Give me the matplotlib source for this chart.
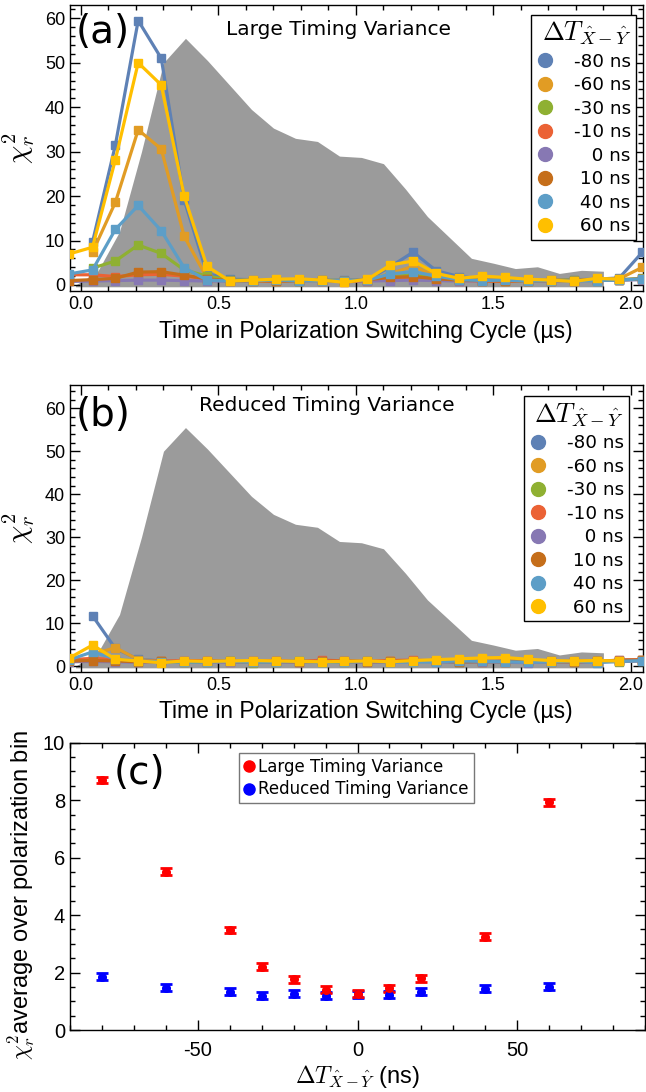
import numpy as np
import matplotlib
matplotlib.use("Agg")
import matplotlib.pyplot as plt
from matplotlib.ticker import MultipleLocator
from matplotlib.lines import Line2D

plt.rcParams['font.family'] = ['Liberation Sans', 'DejaVu Sans']
plt.rcParams['mathtext.fontset'] = 'cm'
plt.rcParams['axes.unicode_minus'] = False

nan = np.nan

# ---------------- data ----------------
delays_ns = [-80, -60, -30, -10, 0, 10, 40, 60]
delay_labels = ['-80 ns', '-60 ns', '-30 ns', '-10 ns', '\u2007 0 ns', ' 10 ns', ' 40 ns', ' 60 ns']
series_colors = ['#5E81B5', '#E19C24', '#8FB032', '#EB6235', '#8778B3', '#C56E1A', '#5D9EC7', '#FFBF00']

# bin centres of the polarization switching cycle (us)
time_us = [-0.042, 0.042, 0.125, 0.208, 0.292, 0.375, 0.458, 0.542, 0.625, 0.708, 0.792, 0.875, 0.958,
           1.042, 1.125, 1.208, 1.292, 1.375, 1.458, 1.542, 1.625, 1.708, 1.792, 1.875, 1.958, 2.042]

# grey background profile
profile_time_us = [-0.02, 0.06, 0.14, 0.22, 0.30, 0.38, 0.46, 0.54, 0.62, 0.70, 0.78, 0.86, 0.94,
                   1.02, 1.10, 1.18, 1.26, 1.34, 1.42, 1.50, 1.58, 1.66, 1.74, 1.82, 1.90]
profile_vals = [0.0, 3.0, 12.0, 30.0, 50.0, 55.5, 50.5, 45.0, 39.5, 35.3, 33.0, 32.3, 29.0,
                28.7, 27.3, 21.6, 15.4, 10.7, 6.0, 4.9, 3.7, 4.1, 2.6, 3.3, 3.1]

# (a) large timing variance
large_m80 = [nan, 9.7, 31.5, 59.5, 51.0, 19.2, 2.6, 1.3, 1.2, 1.1, 1.2, 1.0, 1.1, 1.2, 4.1, 7.4, 3.2, 1.9, 1.4, 1.3, 1.2, 1.1, 1.2, 1.3, 1.6, 7.4]
large_m60 = [nan, 7.4, 18.6, 34.9, 30.6, 11.0, 1.6, 1.0, 1.1, 1.2, 1.0, 0.9, 1.0, 1.1, 2.6, 4.2, 2.0, 1.3, 1.2, 1.1, 1.0, 1.2, 1.0, 1.1, 1.4, 4.0]
large_m30 = [nan, 3.8, 5.4, 9.0, 7.1, 3.4, 2.0, 1.1, 1.0, 0.9, 1.0, 1.1, 1.0, 1.0, 1.8, 2.3, 1.5, 1.1, 1.0, 1.0, 0.9, 1.0, 1.1, 1.0, 1.2, 1.5]
large_m10 = [2.3, 2.3, 1.9, 2.3, 2.4, 2.0, 1.4, 0.9, 1.0, 0.8, 1.1, 1.0, 0.7, 1.0, 1.3, 1.5, 1.2, 1.0, 0.9, 0.8, 1.0, 0.9, 1.0, 1.1, 1.2, 1.3]
large_0 = [0.8, 0.9, 1.0, 1.1, 1.1, 1.0, 0.9, 0.9, 1.0, 1.1, 0.9, 1.0, 1.0, 0.9, 1.0, 1.1, 1.0, 0.9, 1.0, 1.1, 1.0, 0.9, 1.0, 1.0, 1.1, 1.2]
large_p10 = [1.0, 1.2, 1.5, 2.9, 3.0, 2.2, 1.4, 0.9, 1.0, 0.9, 1.0, 1.1, 0.8, 1.2, 1.7, 1.9, 1.4, 1.1, 1.0, 0.9, 1.0, 1.0, 1.0, 1.1, 1.2, 1.3]
large_p40 = [2.5, 3.4, 12.5, 17.9, 12.2, 3.9, 1.1, 0.9, 1.0, 1.1, 1.0, 0.9, 1.0, 1.1, 2.5, 3.0, 2.0, 1.2, 1.0, 1.1, 0.9, 1.0, 0.9, 1.0, 1.1, 1.4]
large_p60 = [7.0, 8.5, 28.2, 50.0, 45.0, 20.1, 4.2, 0.9, 1.1, 1.3, 1.4, 1.1, 0.6, 1.3, 4.5, 5.4, 2.6, 1.5, 2.0, 1.7, 1.3, 1.1, 0.8, 1.5, 1.3, nan]

# (b) reduced timing variance
reduced_m80 = [nan, 11.7, 4.1, 1.6, 1.2, 1.1, 1.0, 1.2, 1.1, 1.0, 1.1, 1.0, 1.2, 1.1, 1.0, 1.1, 1.2, 1.0, 1.1, 1.0, 1.2, 1.3, 1.1, 1.0, 1.4, 1.5]
reduced_m60 = [nan, 2.7, 4.3, 1.5, 1.1, 1.2, 1.0, 1.1, 1.2, 1.0, 1.1, 1.2, 1.0, 1.1, 1.2, 1.0, 1.1, 1.3, 1.2, 1.0, 1.1, 1.0, 1.2, 1.1, 1.3, 1.5]
reduced_m30 = [nan, 1.6, 1.4, 1.2, 1.0, 0.9, 1.0, 1.1, 0.8, 1.0, 1.2, 1.0, 0.9, 1.1, 1.0, 1.2, 1.1, 0.9, 1.0, 1.1, 1.0, 0.9, 1.0, 1.2, 1.0, 1.3]
reduced_m10 = [1.5, 1.8, 1.5, 1.2, 1.1, 1.3, 1.2, 1.0, 1.1, 1.3, 1.0, 1.4, 1.2, 1.1, 1.3, 1.4, 1.2, 1.1, 1.0, 1.2, 1.1, 1.0, 1.2, 1.1, 1.4, 1.5]
reduced_0 = [1.0, 1.1, 1.0, 0.9, 1.0, 1.1, 1.0, 0.9, 1.0, 0.9, 1.0, 1.1, 1.0, 0.9, 1.0, 1.1, 1.0, 0.9, 1.0, 0.9, 0.8, 1.0, 0.9, 1.0, 1.1, 1.2]
reduced_p10 = [1.2, 1.3, 1.2, 1.0, 1.1, 1.0, 1.2, 1.1, 1.0, 1.1, 1.0, 1.1, 1.2, 1.0, 1.1, 1.3, 1.2, 1.0, 1.1, 1.0, 1.2, 1.1, 1.0, 1.1, 1.3, 1.4]
reduced_p40 = [1.5, 3.3, 1.7, 1.2, 1.0, 0.9, 1.0, 1.1, 0.9, 1.0, 1.1, 0.9, 1.0, 1.1, 1.0, 0.9, 1.0, 1.2, 1.1, 1.0, 0.9, 1.0, 1.2, 0.8, 1.1, 1.3]
reduced_p60 = [1.9, 4.9, 1.6, 1.2, 0.8, 1.2, 1.1, 1.2, 1.3, 1.2, 1.1, 1.0, 1.1, 1.2, 1.0, 1.3, 1.5, 1.7, 1.9, 2.0, 1.6, 1.3, 1.2, 1.3, 1.2, nan]

large_series = [large_m80, large_m60, large_m30, large_m10, large_0, large_p10, large_p40, large_p60]
reduced_series = [reduced_m80, reduced_m60, reduced_m30, reduced_m10, reduced_0, reduced_p10, reduced_p40, reduced_p60]

# (c) average chi^2_r over polarization bins
avg_delay_ns = [-80, -60, -40, -30, -20, -10, 0, 10, 20, 40, 60]
avg_large = [8.70, 5.51, 3.48, 2.20, 1.77, 1.40, 1.27, 1.45, 1.80, 3.25, 7.93]
avg_large_err = [0.12, 0.12, 0.12, 0.12, 0.12, 0.12, 0.12, 0.12, 0.12, 0.12, 0.12]
avg_reduced = [1.85, 1.47, 1.33, 1.19, 1.26, 1.20, 1.25, 1.23, 1.33, 1.44, 1.51]
avg_reduced_err = [0.12, 0.12, 0.12, 0.12, 0.12, 0.12, 0.12, 0.12, 0.12, 0.12, 0.12]

# ---------------- figure ----------------
W, H = 646, 1092
fig = plt.figure(figsize=(W / 100, H / 100), dpi=100)


def px_axes(left, top, right, bottom):
    return fig.add_axes([left / W, 1 - bottom / H, (right - left) / W, (bottom - top) / H])


def style_axes(ax, tick_size):
    ax.tick_params(which='both', direction='in', top=True, right=True, width=1.0, labelsize=tick_size)
    ax.tick_params(which='major', length=7)
    ax.tick_params(which='minor', length=3.5)
    for sp in ax.spines.values():
        sp.set_linewidth(1.0)


def time_panel(ax, series, ylim, letter, title, title_xy, leg_anchor):
    ax.fill_between(profile_time_us, -0.4, profile_vals, color='#9b9b9b', lw=0, zorder=1)
    for vals, col in zip(series, series_colors):
        ax.plot(time_us, vals, color=col, lw=2.3, marker='s', ms=6, mec=col, mfc=col,
                solid_joinstyle='round', zorder=3)
    ax.set_xlim(-0.04, 2.044)
    ax.set_ylim(*ylim)
    ax.xaxis.set_major_locator(MultipleLocator(0.5))
    ax.xaxis.set_minor_locator(MultipleLocator(0.1))
    ax.yaxis.set_major_locator(MultipleLocator(10))
    ax.yaxis.set_minor_locator(MultipleLocator(2))
    ax.xaxis.set_major_formatter(matplotlib.ticker.FormatStrFormatter('%.1f'))
    style_axes(ax, 13)
    ax.set_xlabel('Time in Polarization Switching Cycle (µs)', fontsize=16.5)
    ax.xaxis.set_label_coords(0.517, -0.1)
    ax.set_ylabel(r'$\chi^2_r$', fontsize=21)
    ax.yaxis.set_label_coords(-0.058, 0.5)
    ax.text(0.0576, letter[1], letter[0], transform=ax.transAxes, fontsize=28,
            family='DejaVu Sans', ha='center', va='center', zorder=6)
    ax.text(title_xy[0], title_xy[1], title, transform=ax.transAxes, fontsize=14.5,
            family='DejaVu Sans', ha='center', va='center', zorder=6)
    handles = [Line2D([], [], ls='none', marker='o', ms=10, color=c) for c in series_colors]
    leg = ax.legend(handles, delay_labels, loc='upper right', bbox_to_anchor=leg_anchor,
                    borderaxespad=0, frameon=True, fancybox=False, framealpha=1,
                    edgecolor='black', title=r'$\Delta T_{\hat{X}-\hat{Y}}$', title_fontsize=19,
                    prop={'family': 'DejaVu Sans', 'size': 13.2}, labelspacing=0.3,
                    handlelength=1.0, handletextpad=1.1, borderpad=0.25, alignment='right')
    leg.get_frame().set_linewidth(1.0)
    leg.set_zorder(7)


ax_a = px_axes(70, 5, 643, 291)
time_panel(ax_a, large_series, (-1.35, 63.0), ('(a)', 0.906), 'Large Timing Variance',
           (0.469, 0.916), (0.988, 0.965))

ax_b = px_axes(70, 385, 643, 671.7)
time_panel(ax_b, reduced_series, (-1.3, 65.4), ('(b)', 0.895), 'Reduced Timing Variance',
           (0.449, 0.927), (0.975, 0.96))

# ---- (c)
ax_c = px_axes(70, 742.7, 645, 1030)
eb_kw = dict(fmt='o', ms=5.5, capsize=4.5, elinewidth=2.2, capthick=2, zorder=3)
ax_c.errorbar(avg_delay_ns, avg_reduced, yerr=avg_reduced_err, color='#0000ff', **eb_kw)
ax_c.errorbar(avg_delay_ns, avg_large, yerr=avg_large_err, color='#ff0000', **eb_kw)
ax_c.set_xlim(-90, 90)
ax_c.set_ylim(0, 10)
ax_c.xaxis.set_major_locator(MultipleLocator(50))
ax_c.xaxis.set_minor_locator(MultipleLocator(10))
ax_c.yaxis.set_major_locator(MultipleLocator(2))
ax_c.yaxis.set_minor_locator(MultipleLocator(0.5))
style_axes(ax_c, 14.5)
ax_c.tick_params(axis='x', pad=8)
ax_c.set_xlabel(r'$\Delta T_{\hat{X}-\hat{Y}}$ (ns)', fontsize=17)
ax_c.xaxis.set_label_coords(0.5, -0.115)
ax_c.set_ylabel(r'$\chi^2_r$average over polarization bin', fontsize=17)
ax_c.yaxis.set_label_coords(-0.057, 0.47)
ax_c.text(0.12, 0.895, '(c)', transform=ax_c.transAxes, fontsize=28, family='DejaVu Sans',
          ha='center', va='center')
lh = [Line2D([], [], ls='none', marker='o', ms=8, color='#ff0000'),
      Line2D([], [], ls='none', marker='o', ms=8, color='#0000ff')]
leg_c = ax_c.legend(lh, ['Large Timing Variance', 'Reduced Timing Variance'], loc='upper center',
                    bbox_to_anchor=(0.498, 0.963), borderaxespad=0, fancybox=False, framealpha=1,
                    edgecolor='#777777', prop={'family': 'DejaVu Sans', 'size': 12},
                    handlelength=0.6, handletextpad=0.25, borderpad=0.3, labelspacing=0.25)
leg_c.get_frame().set_linewidth(1.0)

fig.savefig('out.png', dpi=100)
